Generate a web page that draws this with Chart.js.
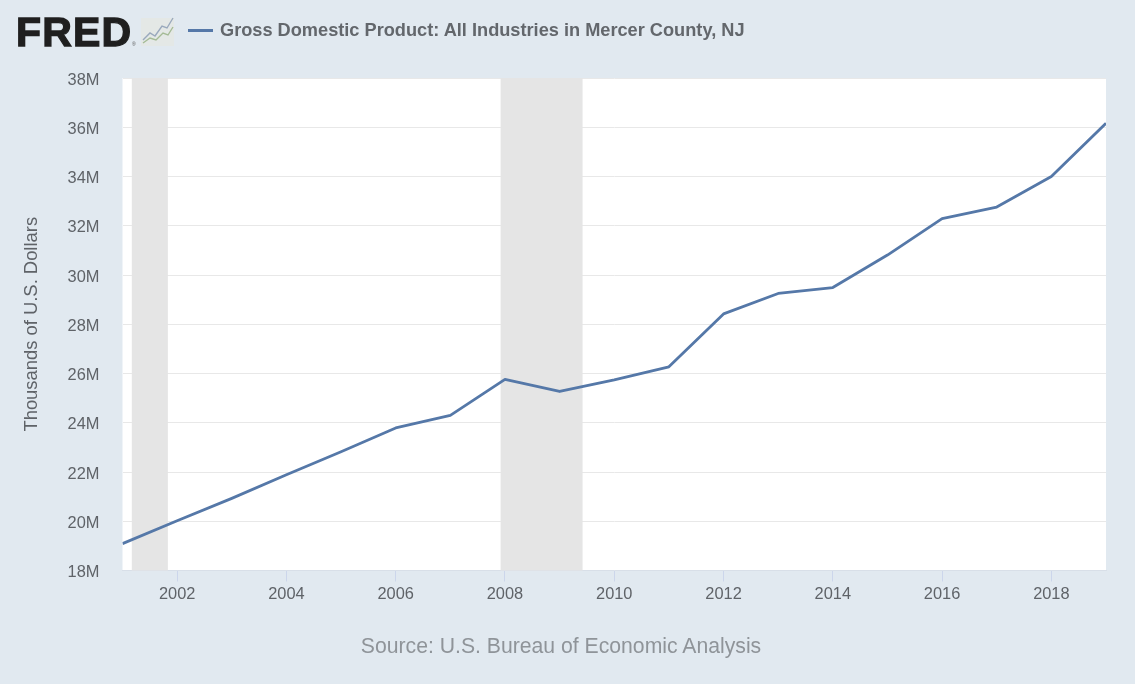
<!DOCTYPE html>
<html><head><meta charset="utf-8">
<style>
html,body{margin:0;padding:0;width:1135px;height:684px;overflow:hidden;background:#e1e9f0;font-family:"Liberation Sans",Arial,sans-serif}
#wrap{position:relative;width:1135px;height:684px}
canvas{position:absolute;left:0;top:0}
.abs{position:absolute;white-space:nowrap}
#logo{left:16px;top:9px;font-size:41px;line-height:46px;font-weight:700;color:#1f1f1f;-webkit-text-stroke:1.3px #1f1f1f;letter-spacing:1.2px}
#reg{left:132px;top:41px;font-size:5px;line-height:6px;color:#555}
#icon{left:141px;top:16px}
#swatch{left:188px;top:29px;width:25px;height:3px;background:#5578a8}
#legend{left:220px;top:20px;font-size:18.2px;line-height:21px;font-weight:700;color:#63676c}
#source{left:0;width:1122px;text-align:center;top:634px;font-size:21.2px;line-height:24px;color:#8f9499}
</style></head>
<body><div id="wrap">
<canvas id="c" width="1135" height="684"></canvas>
<div class="abs" id="logo">FRED</div>
<div class="abs" id="reg">®</div>
<svg class="abs" id="icon" width="34" height="31" viewBox="0 0 34 31">
<rect x="0" y="2" width="33" height="28" fill="#e4e8e6"/>
<polyline points="2,24 9,17 14,20 21,10 26,12 32,2" fill="none" stroke="#9aa9bd" stroke-width="1.4"/>
<polyline points="2,27 9,22 15,24 22,17 27,19 32,11" fill="none" stroke="#a5bb96" stroke-width="1.4"/>
</svg>
<div class="abs" id="swatch"></div>
<div class="abs" id="legend">Gross Domestic Product: All Industries in Mercer County, NJ</div>
<div class="abs" id="source">Source: U.S. Bureau of Economic Analysis</div>
</div>
<script src="https://cdn.jsdelivr.net/npm/chart.js@4"></script>
<script>
const years = [2001,2002,2003,2004,2005,2006,2007,2008,2009,2010,2011,2012,2013,2014,2015,2016,2017,2018,2019];
const gdpMillions = [19.09,20.02,20.93,21.89,22.82,23.79,24.30,25.76,25.27,25.74,26.27,28.42,29.25,29.49,30.81,32.29,32.76,34.00,36.16];
const xTicks = [2002,2004,2006,2008,2010,2012,2014,2016,2018];
const yTicks = [18,20,22,24,26,28,30,32,34,36,38];
const recessionStarts = [2001.17,2007.92];
const recessionEnds = [2001.83,2009.42];
const seriesName = "Gross Domestic Product: All Industries in Mercer County, NJ";
const yTitle = "Thousands of U.S. Dollars";

const recessionPlugin = {
  id:'recessions',
  beforeDatasetsDraw(chart){
    const {ctx,chartArea:a,scales:{x}} = chart;
    ctx.save();
    ctx.fillStyle = '#e5e5e5';
    recessionStarts.forEach((s,i)=>{
      const l = x.getPixelForValue(s), r = x.getPixelForValue(recessionEnds[i]);
      ctx.fillRect(l,a.top,r-l,a.bottom-a.top);
    });
    ctx.restore();
  }
};
const whitePlot = {
  id:'whitePlot',
  beforeDraw(chart){
    const {ctx,chartArea:a} = chart;
    ctx.save();ctx.fillStyle='#ffffff';
    ctx.fillRect(a.left,a.top,a.right-a.left,a.bottom-a.top);
    ctx.restore();
  }
};
const tickFont = {family:'"Liberation Sans",Arial,sans-serif',size:16.4};
new Chart(document.getElementById('c'),{
  type:'line',
  data:{datasets:[{label:seriesName,data:years.map((y,i)=>({x:y,y:gdpMillions[i]})),
    borderColor:'#5578a8',borderWidth:2.8,pointRadius:0,tension:0,fill:false,borderJoinStyle:'round'}]},
  options:{
    responsive:false,animation:false,
    layout:{padding:{left:0,right:29,top:78,bottom:0}},
    plugins:{legend:{display:false},tooltip:{enabled:false}},
    scales:{
      x:{type:'linear',min:2001,max:2019,
        afterBuildTicks(s){s.ticks=xTicks.map(v=>({value:v}));},
        afterFit(s){s.height=113.5;},
        grid:{drawOnChartArea:false,drawTicks:true,tickLength:11,tickColor:'#ccd6eb',tickWidth:1},
        border:{display:true,color:'#d8dfe8',width:1},
        ticks:{color:'#5f6368',font:tickFont,padding:3,maxRotation:0,autoSkip:false,callback:v=>String(v)}
      },
      y:{type:'linear',min:18,max:38,
        afterBuildTicks(s){s.ticks=yTicks.map(v=>({value:v}));},
        afterFit(s){s.width=122.5;},
        grid:{color:'#e8e8e8',lineWidth:1,drawTicks:false},
        border:{display:false},
        ticks:{color:'#5f6368',font:tickFont,padding:23,labelOffset:2,autoSkip:false,callback:v=>v+'M'},
        title:{display:true,text:yTitle,color:'#5f6368',font:{family:'"Liberation Sans",Arial,sans-serif',size:18.4},padding:{top:21,bottom:0}}
      }
    }
  },
  plugins:[whitePlot,recessionPlugin]
});
</script>
</body></html>
